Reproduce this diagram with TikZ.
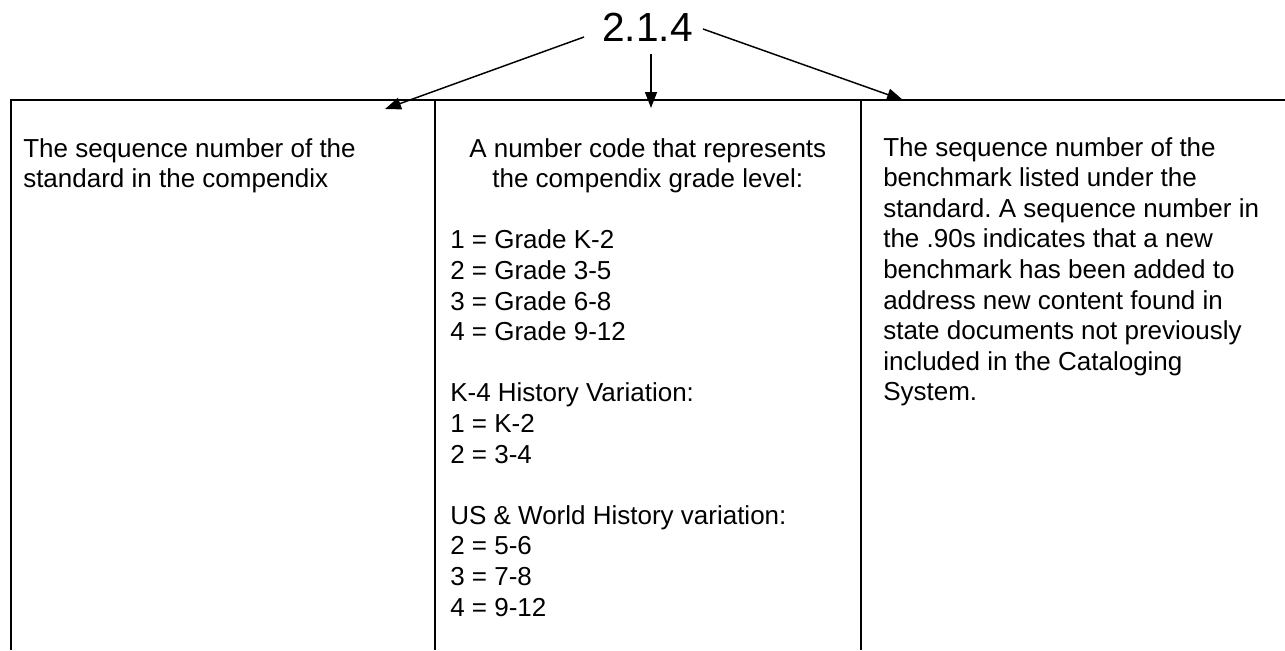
\documentclass[tikz,border=0pt]{standalone}
\usepackage{fontspec}
\setmainfont{Liberation Sans}
\usetikzlibrary{arrows.meta,calc}
\frenchspacing
\begin{document}
\begin{tikzpicture}[x=0.75pt,y=-0.75pt,
  grid/.style={line width=1.5pt},
  pointer/.style={line width=1.1pt,-{Triangle[length=12pt,width=9pt]}},
  body/.style={inner sep=0pt,anchor=base west,font=\fontsize{19.5pt}{22.95pt}\selectfont},
  titlefont/.style={inner sep=0pt,anchor=base,font=\fontsize{30.5pt}{36pt}\selectfont}]
\useasboundingbox (0,0) rectangle (1285,650);
% table
\draw[grid] (11,650) -- (11,100) -- (1285,100);
\draw[grid] (435,100) -- (435,650);
\draw[grid] (861,100) -- (861,650);
% title
\node[titlefont] (title) at (647.5,41) {2.1.4};
\coordinate (sL) at ($(title.base west)+(-18,-4)$);
\coordinate (sM) at ($(title.base)+(3.5,13)$);
\coordinate (sR) at ($(title.base east)+(10,-12)$);
\coordinate (eL) at (385,109);
\coordinate (eM) at (651,108);
\coordinate (eR) at (903,100);
\draw[pointer] (sL) -- (eL);
\draw[pointer] (sM) -- (eM);
\draw[pointer] (sR) -- (eR);
% column texts
\node[body] (left) at (23,157) {\parbox[t]{300pt}{\raggedright The sequence number of the\\standard in the compendix}};
\node[body] (mid) at (450,157) {\parbox[t]{296.25pt}{\centering A number code that represents\\the compendix grade level:\par
\raggedright\vspace{\baselineskip}1 = Grade K-2\\2 = Grade 3-5\\3 = Grade 6-8\\4 = Grade 9-12\par
\vspace{\baselineskip}K-4 History Variation:\\1 = K-2\\2 = 3-4\par
\vspace{\baselineskip}US \& World History variation:\\2 = 5-6\\3 = 7-8\\4 = 9-12}};
\node[body] (right) at (883,156) {\parbox[t]{300pt}{\raggedright The sequence number of the\\benchmark listed under the\\standard. A sequence number in\\the .90s indicates that a new\\benchmark has been added to\\address new content found in\\state documents not previously\\included in the Cataloging\\System.}};
\end{tikzpicture}
\end{document}
